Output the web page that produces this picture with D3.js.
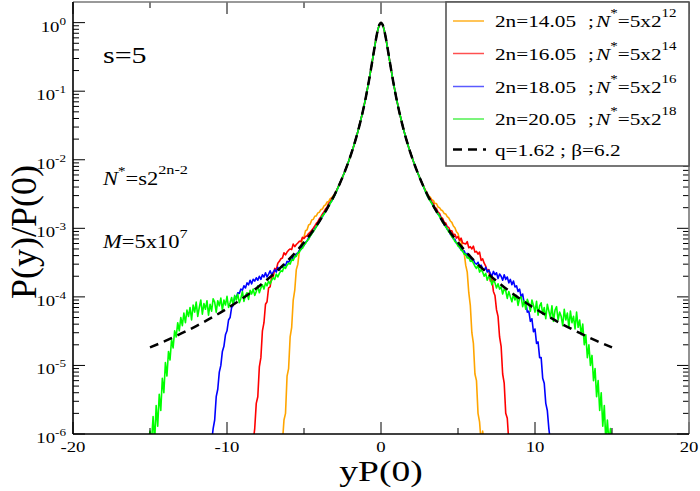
<!DOCTYPE html>
<html><head><meta charset="utf-8">
<script src="https://cdn.jsdelivr.net/npm/d3@7"></script>
<style>body{margin:0;background:#fff} svg{display:block} text{font-family:"Liberation Serif","Times New Roman",serif;fill:#000}</style>
</head><body><svg id="c" width="700" height="491"></svg>
<script>
// ---------- data ----------
const xTicksMajor = [-20, -10, 0, 10, 20];
const xTicksMinor = [-15, -5, 5, 15];
const yDecades = [-6, -5, -4, -3, -2, -1, 0];

const seriesNames = ["2n=14.05", "2n=16.05", "2n=18.05", "2n=20.05"];
const seriesNstar = ["12", "14", "16", "18"];
const seriesColors = ["#ffa500", "#ff0000", "#0000ff", "#00ff00"];
const legendColors = ["#ffb020", "#ff5050", "#5a5aff", "#50f050"];

// common central part (all sets coincide here), x >= 0, mirrored
const coreX = [0, 0.1, 0.2, 0.3, 0.4, 0.5, 0.6, 0.8, 1.0, 1.2, 1.5, 1.8, 2.1, 2.4, 2.7];
const coreY = [1, 0.94, 0.795, 0.62, 0.46, 0.338, 0.246, 0.135, 0.0785, 0.0484, 0.0258, 0.0151, 0.0095, 0.0063, 0.00437];

// tails, read at |x| = 3.0, 3.1, 3.2 ...
const tailStart = 3.0, tailStep = 0.1;
const orangeRight = [3.2e-3,2.95e-3,2.85e-3,2.6e-3,2.55e-3,2.3e-3,2.3e-3,2.05e-3,2.0e-3,1.85e-3,
 1.8e-3,1.65e-3,1.62e-3,1.48e-3,1.42e-3,1.28e-3,1.22e-3,1.08e-3,1.02e-3,8.9e-4,
 8.4e-4,6.9e-4,6.5e-4,5.0e-4,4.4e-4,2.9e-4,2.3e-4,1.15e-4,7.5e-5,3.0e-5,
 2.1e-5,7.5e-6,6e-6,2e-6,1.5e-6,0,1.1e-6,0];
const orangeLeft = [3.1e-3,3.0e-3,2.8e-3,2.7e-3,2.45e-3,2.42e-3,2.2e-3,2.12e-3,1.92e-3,1.88e-3,
 1.72e-3,1.68e-3,1.52e-3,1.5e-3,1.35e-3,1.32e-3,1.15e-3,1.12e-3,9.5e-4,9.2e-4,
 7.5e-4,7.0e-4,5.3e-4,4.7e-4,3.0e-4,2.5e-4,1.25e-4,9e-5,3.6e-5,2.6e-5,
 9e-6,7e-6,2e-6,1.6e-6,0];
const redRight = [3.1e-3,2.85e-3,2.7e-3,2.45e-3,2.3e-3,2.0e-3,1.95e-3,1.72e-3,1.65e-3,1.45e-3,
 1.4e-3,1.22e-3,1.2e-3,1.05e-3,1.03e-3,9.1e-4,9.2e-4,8.0e-4,8.2e-4,7.2e-4,
 7.6e-4,6.6e-4,7.2e-4,6.1e-4,6.0e-4,5.9e-4,6.4e-4,5.2e-4,5.4e-4,5.0e-4,
 5.5e-4,4.5e-4,4.6e-4,4.2e-4,4.5e-4,3.4e-4,3.6e-4,3.1e-4,2.8e-4,2.4e-4,
 2.5e-4,1.7e-4,1.85e-4,1.2e-4,1.05e-4,6.5e-5,5.2e-5,2.6e-5,1.9e-5,7.5e-6,
 5.5e-6,2e-6,1.7e-6,0];
const redLeft = [3.15e-3,2.8e-3,2.72e-3,2.42e-3,2.32e-3,2.02e-3,1.92e-3,1.75e-3,1.62e-3,1.48e-3,
 1.38e-3,1.25e-3,1.18e-3,1.08e-3,1.0e-3,9.4e-4,8.8e-4,8.4e-4,7.8e-4,7.6e-4,
 7.1e-4,7.4e-4,6.4e-4,6.5e-4,6.1e-4,5.8e-4,5.4e-4,5.9e-4,4.9e-4,5.0e-4,
 4.8e-4,4.5e-4,4.1e-4,4.4e-4,3.7e-4,3.6e-4,3.3e-4,3.1e-4,2.5e-4,2.6e-4,
 1.95e-4,2.0e-4,1.4e-4,1.35e-4,8.5e-5,7.8e-5,4.2e-5,3.2e-5,1.3e-5,9.5e-6,
 3.5e-6,2.8e-6,1.2e-6,0];
const blueRight = [3.0e-3,2.7e-3,2.55e-3,2.3e-3,2.15e-3,1.9e-3,1.82e-3,1.6e-3,1.55e-3,1.35e-3,
 1.3e-3,1.12e-3,1.1e-3,9.6e-4,9.4e-4,8.2e-4,8.0e-4,7.0e-4,6.9e-4,6.0e-4,
 6.0e-4,5.2e-4,5.3e-4,4.6e-4,4.7e-4,4.1e-4,4.3e-4,3.7e-4,3.8e-4,3.3e-4,
 3.5e-4,3.1e-4,3.0e-4,3.2e-4,2.7e-4,2.9e-4,2.6e-4,2.45e-4,2.7e-4,2.3e-4,
 2.45e-4,2.2e-4,2.0e-4,2.35e-4,2.1e-4,2.25e-4,1.85e-4,2.15e-4,2.0e-4,1.75e-4,
 2.1e-4,1.8e-4,1.95e-4,1.6e-4,1.8e-4,1.5e-4,1.7e-4,1.4e-4,1.45e-4,1.2e-4,
 1.3e-4,1.0e-4,1.1e-4,8.0e-5,8.5e-5,6.0e-5,6.2e-5,4.4e-5,4.8e-5,3.1e-5,
 3.4e-5,2.1e-5,2.2e-5,1.3e-5,1.3e-5,6.5e-6,5.5e-6,2.8e-6,2.2e-6,1.2e-6,0];
const blueLeft = [3.05e-3,2.75e-3,2.5e-3,2.35e-3,2.1e-3,1.95e-3,1.75e-3,1.65e-3,1.48e-3,1.42e-3,
 1.25e-3,1.18e-3,1.05e-3,1.0e-3,8.9e-4,8.6e-4,7.6e-4,7.3e-4,6.5e-4,6.3e-4,
 5.6e-4,5.5e-4,4.9e-4,4.8e-4,4.3e-4,4.3e-4,3.8e-4,3.9e-4,3.4e-4,3.5e-4,
 3.2e-4,3.3e-4,2.85e-4,3.0e-4,2.7e-4,2.75e-4,2.45e-4,2.7e-4,2.3e-4,2.5e-4,
 2.3e-4,2.1e-4,2.4e-4,2.15e-4,1.95e-4,2.25e-4,1.95e-4,2.1e-4,1.8e-4,2.0e-4,
 1.75e-4,1.9e-4,1.7e-4,1.8e-4,1.55e-4,1.75e-4,1.5e-4,1.6e-4,1.35e-4,1.45e-4,
 1.25e-4,1.3e-4,1.12e-4,1.15e-4,9.5e-5,1.0e-4,7.5e-5,7.0e-5,5.0e-5,4.6e-5,
 3.2e-5,2.8e-5,1.9e-5,1.6e-5,1.0e-5,8e-6,4.5e-6,3.5e-6,1.6e-6,1.2e-6,0];
const greenRight = [3.0e-3,2.72e-3,2.5e-3,2.32e-3,2.1e-3,1.92e-3,1.74e-3,1.64e-3,1.48e-3,1.4e-3,
 1.22e-3,1.16e-3,1.04e-3,9.9e-4,8.8e-4,8.5e-4,7.5e-4,7.2e-4,6.4e-4,6.2e-4,
 5.5e-4,5.4e-4,4.8e-4,4.7e-4,4.2e-4,4.2e-4,3.7e-4,3.8e-4,3.3e-4,3.4e-4,
 3.1e-4,2.8e-4,2.6e-4,2.9e-4,2.3e-4,2.5e-4,2.3e-4,2.0e-4,2.2e-4,1.75e-4,
 2.0e-4,1.85e-4,1.5e-4,1.75e-4,1.6e-4,1.35e-4,1.55e-4,1.3e-4,1.4e-4,1.1e-4,
 1.3e-4,1.22e-4,9.5e-5,1.2e-4,1.0e-4,8.5e-5,1.1e-4,9e-5,1.05e-4,7.5e-5,
 9.5e-5,1.0e-4,7.2e-5,8.8e-5,6.6e-5,9.2e-5,8.0e-5,6.2e-5,9.0e-5,7.5e-5,
 6.0e-5,8.6e-5,5.4e-5,7.4e-5,8.2e-5,5.6e-5,7.0e-5,4.8e-5,7.8e-5,6.2e-5,
 5.0e-5,7.4e-5,4.4e-5,6.4e-5,7.2e-5,4.6e-5,6.0e-5,5.2e-5,3.8e-5,6.6e-5,
 4.6e-5,5.8e-5,3.6e-5,6.2e-5,4.2e-5,5.2e-5,3.4e-5,6.0e-5,3.6e-5,4.6e-5,
 2.8e-5,4.0e-5,2.0e-5,2.8e-5,1.3e-5,2.0e-5,1.0e-5,1.4e-5,6e-6,9e-6,
 3.5e-6,6e-6,2.2e-6,4e-6,1.3e-6,2.6e-6,0,1.6e-6,0,1.2e-6,0];
const greenLeft = [3.05e-3,2.75e-3,2.52e-3,2.3e-3,2.12e-3,1.9e-3,1.78e-3,1.6e-3,1.52e-3,1.38e-3,
 1.26e-3,1.14e-3,1.06e-3,9.6e-4,9.0e-4,8.2e-4,7.7e-4,6.9e-4,6.6e-4,6.0e-4,
 5.7e-4,5.1e-4,5.0e-4,4.5e-4,4.4e-4,3.9e-4,3.9e-4,3.4e-4,3.5e-4,3.0e-4,
 3.1e-4,2.9e-4,2.6e-4,2.75e-4,2.35e-4,2.4e-4,2.2e-4,1.95e-4,2.15e-4,1.8e-4,
 1.9e-4,1.75e-4,1.55e-4,1.7e-4,1.45e-4,1.6e-4,1.3e-4,1.5e-4,1.35e-4,1.15e-4,
 1.45e-4,1.2e-4,1.05e-4,1.3e-4,1.1e-4,1.25e-4,9.2e-5,1.15e-4,1.05e-4,8.6e-5,
 1.2e-4,9.5e-5,8.2e-5,1.1e-4,9.0e-5,1.05e-4,7.6e-5,9.8e-5,8.2e-5,7.0e-5,
 1.02e-4,7.6e-5,9.0e-5,6.4e-5,9.6e-5,7.4e-5,8.8e-5,6.0e-5,8.4e-5,9.4e-5,
 6.2e-5,7.8e-5,5.4e-5,8.8e-5,6.6e-5,8.0e-5,5.6e-5,9.0e-5,7.0e-5,5.2e-5,
 8.4e-5,6.0e-5,7.6e-5,4.6e-5,7.0e-5,5.2e-5,6.4e-5,4.2e-5,5.8e-5,3.8e-5,
 5.0e-5,3.2e-5,4.2e-5,2.6e-5,3.2e-5,1.8e-5,2.4e-5,1.2e-5,1.6e-5,7e-6,
 1.1e-5,4e-6,6.5e-6,2.2e-6,3.8e-6,1.3e-6,2.6e-6,0,1.8e-6,0,1.1e-6,0];

// q-Gaussian fit curve (dashed), x >= 0, mirrored
const fitX = [0, 0.1, 0.2, 0.3, 0.4, 0.5, 0.6, 0.8, 1.0, 1.2, 1.5, 1.8, 2.1, 2.4, 2.7, 3, 3.5, 4, 4.5, 5, 5.5, 6, 7, 8, 9, 10, 11, 12, 13, 14, 15];
const fitY = [1, 0.941, 0.794, 0.619, 0.4615, 0.3375, 0.2463, 0.1351, 0.0785, 0.04843, 0.02584, 0.01511, 0.00949, 0.0063, 0.00437, 0.003146, 0.001936, 0.001269, 8.72e-4, 6.23e-4, 4.6e-4, 3.48e-4, 2.125e-4, 1.384e-4, 9.48e-5, 6.75e-5, 4.97e-5, 3.75e-5, 2.9e-5, 2.28e-5, 1.83e-5];

const tails = [[orangeLeft, orangeRight], [redLeft, redRight], [blueLeft, blueRight], [greenLeft, greenRight]];

// ---------- drawing ----------
const SX = 1.25;
const svg = d3.select("#c");
const L = 73, R = 689, T = 2, B = 434;
const x = d3.scaleLinear().domain([-20, 20]).range([L, R]);
const y = d3.scaleLog().domain([1e-6, 2]).range([B, T]);

svg.append("defs").append("clipPath").attr("id", "clip")
  .append("rect").attr("x", L).attr("y", T).attr("width", R - L).attr("height", B - T);

function buildSeries(left, right) {
  const pts = [];
  for (let i = left.length - 1; i >= 0; i--) pts.push([-(tailStart + i * tailStep), left[i]]);
  for (let j = coreX.length - 1; j >= 1; j--) pts.push([-coreX[j], coreY[j]]);
  for (let j = 0; j < coreX.length; j++) pts.push([coreX[j], coreY[j]]);
  for (let i = 0; i < right.length; i++) pts.push([tailStart + i * tailStep, right[i]]);
  return pts;
}
const line = d3.line().x(d => x(d[0])).y(d => d[1] > 0 ? y(d[1]) : B + 8);

const plot = svg.append("g").attr("clip-path", "url(#clip)");
tails.forEach((t, k) => {
  plot.append("path").datum(buildSeries(t[0], t[1]))
    .attr("fill", "none").attr("stroke", seriesColors[k]).attr("stroke-width", 1.6)
    .attr("stroke-linejoin", "round").attr("d", line);
});
const fitPts = [];
for (let j = fitX.length - 1; j >= 1; j--) fitPts.push([-fitX[j], fitY[j]]);
for (let j = 0; j < fitX.length; j++) fitPts.push([fitX[j], fitY[j]]);
plot.append("path").datum(fitPts).attr("fill", "none").attr("stroke", "#000")
  .attr("stroke-width", 2.5).attr("stroke-dasharray", "9,6")
  .attr("d", d3.line().x(d => x(d[0])).y(d => y(d[1])).curve(d3.curveMonotoneX));

// stretched text helper
function stext(X, Y, anchor, size, parent) {
  const g = (parent || svg).append("g").attr("transform", `translate(${X},${Y}) scale(${SX},1)`);
  return g.append("text").attr("text-anchor", anchor || "start").attr("font-size", size);
}

// axes: ticks
const ax = svg.append("g").attr("stroke", "#000").attr("stroke-width", 1);
xTicksMajor.forEach(v => {
  ax.append("line").attr("x1", x(v)).attr("x2", x(v)).attr("y1", B).attr("y2", B - 12);
  ax.append("line").attr("x1", x(v)).attr("x2", x(v)).attr("y1", T).attr("y2", T + 12);
});
xTicksMinor.forEach(v => {
  ax.append("line").attr("x1", x(v)).attr("x2", x(v)).attr("y1", B).attr("y2", B - 6);
  ax.append("line").attr("x1", x(v)).attr("x2", x(v)).attr("y1", T).attr("y2", T + 6);
});
yDecades.forEach(e => {
  const v = Math.pow(10, e);
  ax.append("line").attr("x1", L).attr("x2", L + 12).attr("y1", y(v)).attr("y2", y(v));
  ax.append("line").attr("x1", R).attr("x2", R - 12).attr("y1", y(v)).attr("y2", y(v));
  for (let k = 2; k <= 9; k++) {
    const m = k * v;
    if (m >= 2) continue;
    ax.append("line").attr("x1", L).attr("x2", L + 6).attr("y1", y(m)).attr("y2", y(m));
    ax.append("line").attr("x1", R).attr("x2", R - 6).attr("y1", y(m)).attr("y2", y(m));
  }
});
// frame
svg.append("line").attr("x1", L).attr("x2", R).attr("y1", T).attr("y2", T).attr("stroke", "#777").attr("stroke-width", 1.6);
svg.append("line").attr("x1", R).attr("x2", R).attr("y1", T).attr("y2", B).attr("stroke", "#777").attr("stroke-width", 1.6);
svg.append("line").attr("x1", L).attr("x2", L).attr("y1", T).attr("y2", B).attr("stroke", "#000").attr("stroke-width", 1.6);
svg.append("line").attr("x1", L).attr("x2", R).attr("y1", B).attr("y2", B).attr("stroke", "#000").attr("stroke-width", 1.6);

// tick labels
xTicksMajor.forEach(v => { stext(x(v), B + 18, "middle", 15).text(String(v)); });
yDecades.forEach(e => {
  const t = stext(66, y(Math.pow(10, e)) + 9, "end", 15);
  t.append("tspan").text("10");
  t.append("tspan").attr("dy", -7).attr("font-size", 10.5).text(String(e));
});

// axis titles
svg.append("text").attr("transform", `translate(36,232) rotate(-90)`).attr("text-anchor", "middle")
  .attr("font-size", 36).text("P(y)/P(0)");
stext(381, 481, "middle", 30).text("yP(0)");

// annotations
stext(103, 63, "start", 24).text("s=5");
{
  const t = stext(103, 185, "start", 18);
  t.append("tspan").attr("font-style", "italic").text("N");
  t.append("tspan").attr("dy", -10).attr("font-size", 12).text("*");
  t.append("tspan").attr("dy", 10).text("=s2");
  t.append("tspan").attr("dy", -11).attr("font-size", 13).text("2n-2");
}
{
  const t = stext(103, 248, "start", 18);
  t.append("tspan").attr("font-style", "italic").text("M");
  t.append("tspan").text("=5x10");
  t.append("tspan").attr("dy", -10).attr("font-size", 13).text("7");
}

// legend
const lg = svg.append("g");
lg.append("rect").attr("x", 446).attr("y", T).attr("width", R - 446).attr("height", 164)
  .attr("fill", "#fff").attr("stroke", "#555").attr("stroke-width", 1.6);
const rowsY = [21, 53.5, 86.5, 119, 149.5];
seriesNames.forEach((nm, k) => {
  const ry = rowsY[k];
  lg.append("line").attr("x1", 453).attr("x2", 484).attr("y1", ry).attr("y2", ry)
    .attr("stroke", legendColors[k]).attr("stroke-width", 1.5);
  stext(495, ry + 6, "start", 17, lg).text(nm);
  stext(588, ry + 6, "start", 17, lg).text(";");
  const t = stext(596, ry + 6, "start", 17, lg);
  t.append("tspan").attr("font-style", "italic").text("N");
  t.append("tspan").attr("dy", -10).attr("font-size", 12).text("*");
  t.append("tspan").attr("dy", 10).text("=5x2");
  t.append("tspan").attr("dy", -10).attr("font-size", 12).text(seriesNstar[k]);
});
lg.append("line").attr("x1", 453).attr("x2", 486).attr("y1", rowsY[4]).attr("y2", rowsY[4])
  .attr("stroke", "#000").attr("stroke-width", 2.5).attr("stroke-dasharray", "9,6");
stext(495, rowsY[4] + 6, "start", 17, lg).text("q=1.62 ; β=6.2");
</script></body></html>
